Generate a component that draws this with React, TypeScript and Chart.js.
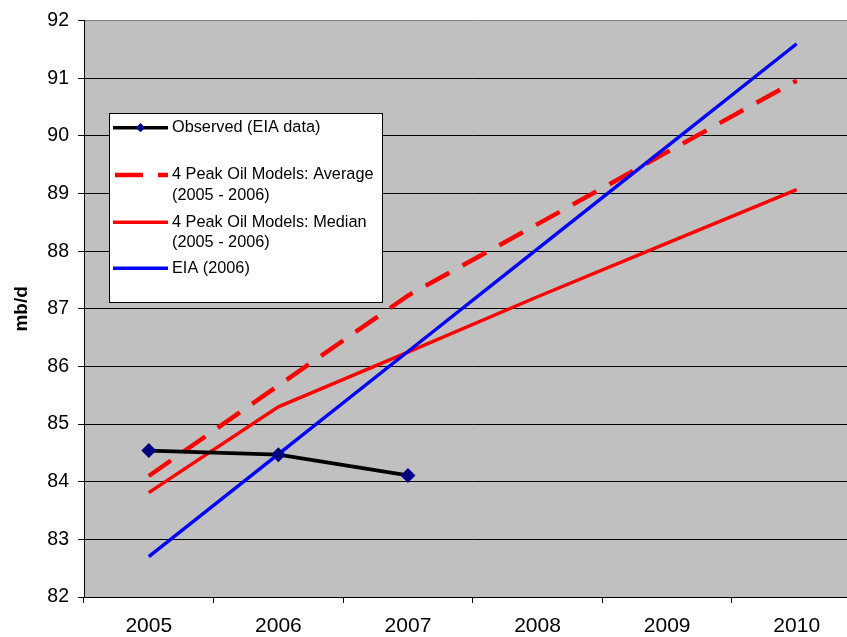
import React, { useEffect, useRef } from 'react';
import { Chart, registerables } from 'chart.js';

Chart.register(...registerables);

// ---- data ----
const years = ['2005', '2006', '2007', '2008', '2009', '2010'];
const observedValues = [84.54, 84.47, 84.11, null, null, null];
const averageValues = [84.1, 85.67, 87.23, 88.47, 89.72, 90.96];
const medianValues = [83.81, 85.3, 86.25, 87.21, 88.14, 89.07];
const eiaValues = [82.7, 84.48, 86.26, 88.04, 89.82, 91.6];

const observedName = ['Observed (EIA data)'];
const averageName = ['4 Peak Oil Models: Average', '(2005 - 2006)'];
const medianName = ['4 Peak Oil Models: Median', '(2005 - 2006)'];
const eiaName = ['EIA (2006)'];

const yMin = 82;
const yMax = 92;
const yStep = 1;
const yTitle = 'mb/d';

const FONT = '"Liberation Sans", Arial, Helvetica, sans-serif';

const bgPlugin = {
  id: 'plotBg',
  beforeDraw(chart: any) {
    const { ctx, chartArea } = chart;
    ctx.save();
    ctx.fillStyle = '#ffffff';
    ctx.fillRect(0, 0, chart.width, chart.height);
    ctx.fillStyle = '#C0C0C0';
    ctx.fillRect(chartArea.left, chartArea.top, chartArea.right - chartArea.left, chartArea.bottom - chartArea.top);
    ctx.restore();
  },
};

const legendPlugin = {
  id: 'boxLegend',
  afterDraw(chart: any) {
    const ctx = chart.ctx;
    const bx = 109.5, by = 113.5, bw = 273, bh = 189;
    ctx.save();
    ctx.fillStyle = '#ffffff';
    ctx.fillRect(bx, by, bw, bh);
    ctx.strokeStyle = '#000000';
    ctx.lineWidth = 1;
    ctx.strokeRect(bx, by, bw, bh);

    const rowY = [127.7, 175, 222.3, 268.3];
    const lineGap = 20.6;
    const x0 = 113, x1 = 168, tx = 172;
    chart.data.datasets.forEach((ds: any, i: number) => {
      const y = rowY[i];
      ctx.save();
      ctx.strokeStyle = ds.borderColor;
      ctx.lineWidth = ds.borderWidth;
      ctx.lineCap = 'butt';
      if (ds.borderDash && ds.borderDash.length) {
        ctx.setLineDash([28, 15]);
        ctx.beginPath();
        ctx.moveTo(x0 + 2, y);
        ctx.lineTo(x1, y);
        ctx.stroke();
      } else {
        ctx.beginPath();
        ctx.moveTo(x0, y);
        ctx.lineTo(x1, y);
        ctx.stroke();
      }
      ctx.setLineDash([]);
      if (ds.pointRadius > 0) {
        const cx = (x0 + x1) / 2;
        const r = 4.6;
        ctx.fillStyle = ds.pointBackgroundColor;
        ctx.beginPath();
        ctx.moveTo(cx, y - r);
        ctx.lineTo(cx + r, y);
        ctx.lineTo(cx, y + r);
        ctx.lineTo(cx - r, y);
        ctx.closePath();
        ctx.fill();
      }
      ctx.restore();
      ctx.fillStyle = '#000000';
      ctx.font = `16.3px ${FONT}`;
      ctx.textBaseline = 'middle';
      ctx.textAlign = 'left';
      (ds.legendLines as string[]).forEach((t, k) => {
        ctx.fillText(t, tx, y + k * lineGap);
      });
    });
    ctx.restore();
  },
};

export default function App() {
  const ref = useRef<HTMLCanvasElement | null>(null);

  useEffect(() => {
    if (!ref.current) return;
    const chart = new Chart(ref.current, {
      type: 'line',
      data: {
        labels: years,
        datasets: [
          {
            label: observedName.join(' '),
            legendLines: observedName,
            data: observedValues,
            borderColor: '#000000',
            borderWidth: 3.6,
            pointStyle: 'rectRot',
            pointRadius: 7.5,
            pointBackgroundColor: '#000080',
            pointBorderColor: '#000080',
            pointBorderWidth: 0,
            spanGaps: false,
            order: 0,
          } as any,
          {
            label: averageName.join(' '),
            legendLines: averageName,
            data: averageValues,
            borderColor: '#FF0000',
            borderWidth: 4.5,
            borderDash: [27, 15],
            borderCapStyle: 'butt',
            pointRadius: 0,
            order: 3,
          } as any,
          {
            label: medianName.join(' '),
            legendLines: medianName,
            data: medianValues,
            borderColor: '#FF0000',
            borderWidth: 3.4,
            pointRadius: 0,
            order: 2,
          } as any,
          {
            label: eiaName.join(' '),
            legendLines: eiaName,
            data: eiaValues,
            borderColor: '#0000FF',
            borderWidth: 3.4,
            pointRadius: 0,
            order: 1,
          } as any,
        ],
      },
      options: {
        responsive: false,
        animation: false,
        events: [],
        layout: { padding: { top: 20, left: 0, right: 0, bottom: 0 } },
        plugins: {
          legend: { display: false },
          tooltip: { enabled: false },
        },
        elements: { line: { tension: 0 } },
        scales: {
          x: {
            type: 'category',
            offset: true,
            afterFit: (s: any) => { s.height = 40; },
            grid: {
              offset: true,
              drawOnChartArea: false,
              drawTicks: true,
              tickLength: 6,
              color: '#000000',
            },
            border: { color: '#000000', width: 1 },
            ticks: {
              color: '#000000',
              font: { family: FONT, size: 21 },
              padding: 11,
              maxRotation: 0,
            },
          },
          y: {
            min: yMin,
            max: yMax,
            afterFit: (s: any) => { s.width = 84; },
            grid: {
              color: (c: any) => (c.tick && c.tick.value === yMax ? '#808080' : '#000000'),
              lineWidth: 1,
              drawTicks: true,
              tickLength: 6,
              tickColor: '#000000',
            },
            border: { color: '#000000', width: 1 },
            ticks: {
              stepSize: yStep,
              color: '#000000',
              font: { family: FONT, size: 19.5 },
              padding: 9,
            },
            title: {
              display: true,
              text: yTitle,
              color: '#000000',
              font: { family: FONT, size: 19, weight: 'bold' },
              padding: { top: 10, bottom: 0 },
            },
          },
        },
      } as any,
      plugins: [bgPlugin, legendPlugin],
    });
    return () => chart.destroy();
  }, []);

  return (
    <div style={{ position: 'fixed', left: 0, top: 0, width: 847, height: 637, overflow: 'hidden', background: '#fff' }}>
      <canvas ref={ref} width={869} height={637} style={{ display: 'block', width: 869, height: 637 }} />
    </div>
  );
}
